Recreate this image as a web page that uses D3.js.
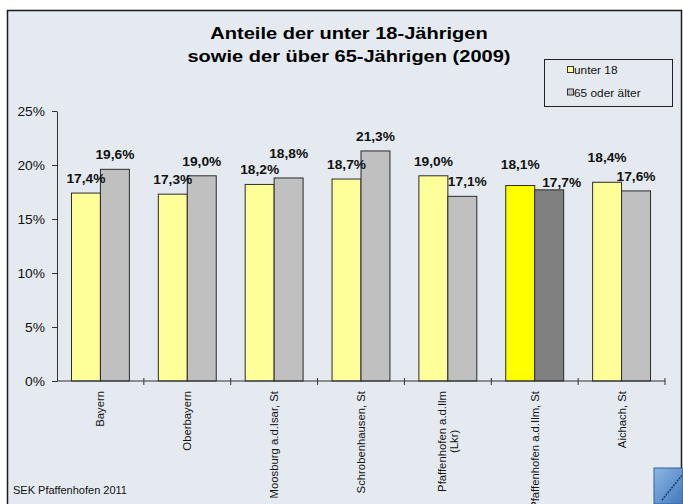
<!DOCTYPE html>
<html>
<head>
<meta charset="utf-8">
<script src="https://cdn.jsdelivr.net/npm/d3@7"></script>
<style>
  body { margin: 0; background: #fff; }
  svg { display: block; font-family: Arial, "Liberation Sans", sans-serif; }
</style>
</head>
<body>
<script>
// Chart data
const categories = ["Bayern", "Oberbayern", "Moosburg a.d.Isar, St", "Schrobenhausen, St",
    "Pfaffenhofen a.d.Ilm\n(Lkr)", "Pfaffenhofen a.d.Ilm, St", "Aichach, St"];
const under18 = [17.4, 17.3, 18.2, 18.7, 19.0, 18.1, 18.4];
const over65 = [19.6, 19.0, 18.8, 21.3, 17.1, 17.7, 17.6];
const yTicks = [0, 5, 10, 15, 20, 25];
const seriesNames = ["unter 18", "65 oder älter"];
const highlighted = "Pfaffenhofen a.d.Ilm, St";

// label nudges (Excel moved a few labels to avoid overlaps)
const liftU18 = [0, 0, 0, 0, 0, 6.5, 10.5];
const liftO65 = [0, 0, 10, 0, 0, -7, 0];
const shiftO65 = [0, 0, 0, 0, 5, 12.5, 0];

const W = 683, H = 504;
const bg = "#e4eaf0";
const sx = 1.15; // the picture is slightly stretched horizontally

const svg = d3.select("body").append("svg")
    .attr("width", W)
    .attr("height", H);

// outer frame
svg.append("rect")
    .attr("x", 7.5).attr("y", 10.5)
    .attr("width", 674).attr("height", 510)
    .attr("fill", bg)
    .attr("stroke", "#1a1a1a")
    .attr("stroke-width", 1.5);

// title
const title = svg.append("g")
    .attr("transform", "translate(349,0) scale(1.18,1)")
    .attr("text-anchor", "middle")
    .style("font-weight", "bold")
    .style("font-size", "17px");
title.append("text").attr("y", 39).text("Anteile der unter 18-Jährigen");
title.append("text").attr("y", 62).text("sowie der über 65-Jährigen (2009)");

// scales
const x0 = d3.scaleBand()
    .domain(categories)
    .range([57, 665])
    .paddingInner(1 / 3)
    .paddingOuter(1 / 6);

const x1 = d3.scaleBand()
    .domain(seriesNames)
    .range([0, x0.bandwidth()]);

const y = d3.scaleLinear()
    .domain([0, 25])
    .range([381, 111]);

// y axis
const yAxis = svg.append("g")
    .attr("transform", "translate(57,0)")
    .call(d3.axisLeft(y).tickValues(yTicks).tickFormat(d => d + "%").tickSize(5).tickSizeOuter(0));
yAxis.select(".domain").attr("stroke", "#333");
yAxis.selectAll(".tick line").attr("stroke", "#333");
yAxis.selectAll(".tick text")
    .attr("x", -12 / sx)
    .attr("dy", "0.36em")
    .attr("transform", `scale(${sx},1)`)
    .style("font-size", "12px")
    .style("font-family", "Arial, 'Liberation Sans', sans-serif")
    .attr("fill", "#111");

// bars
const colors = {
    normal: ["#ffff99", "#c0c0c0"],
    strong: ["#ffff00", "#808080"]
};

const groups = svg.selectAll(".cat")
    .data(categories)
    .enter()
    .append("g")
    .attr("class", "cat")
    .attr("transform", d => `translate(${x0(d)},0)`);

groups.selectAll("rect")
    .data((c, i) => [
        { cat: c, s: 0, v: under18[i] },
        { cat: c, s: 1, v: over65[i] }
    ])
    .enter()
    .append("rect")
    .attr("x", d => x1(seriesNames[d.s]))
    .attr("y", d => y(d.v))
    .attr("width", x1.bandwidth())
    .attr("height", d => y(0) - y(d.v))
    .attr("fill", d => (d.cat === highlighted ? colors.strong : colors.normal)[d.s])
    .attr("stroke", "#2b2b2b")
    .attr("stroke-width", 1);

// value labels
groups.each(function(c, i) {
    const g = d3.select(this);
    const fmt = v => v.toFixed(1).replace(".", ",") + "%";
    const items = [
        { s: 0, v: under18[i], lift: liftU18[i], dx: 0 },
        { s: 1, v: over65[i], lift: liftO65[i], dx: shiftO65[i] }
    ];
    items.forEach(d => {
        const cx = x1(seriesNames[d.s]) + x1.bandwidth() / 2 + d.dx;
        const by = y(d.v) - 10 - d.lift;
        g.append("text")
            .attr("transform", `translate(${cx},${by}) scale(1.1,1)`)
            .attr("text-anchor", "middle")
            .style("font-weight", "bold")
            .style("font-size", "12.5px")
            .attr("fill", "#111")
            .text(fmt(d.v));
    });
});

// x axis line and category ticks
svg.append("line")
    .attr("x1", 57).attr("x2", 665)
    .attr("y1", y(0)).attr("y2", y(0))
    .attr("stroke", "#333");

svg.selectAll(".xtick")
    .data(d3.range(1, categories.length + 1))
    .enter()
    .append("line")
    .attr("class", "xtick")
    .attr("x1", i => x0.range()[0] + i * x0.step())
    .attr("x2", i => x0.range()[0] + i * x0.step())
    .attr("y1", y(0) - 3)
    .attr("y2", y(0) + 4)
    .attr("stroke", "#333");

// rotated category labels
categories.forEach(c => {
    const lines = c.split("\n");
    const cx = x0(c) + x0.bandwidth() / 2;
    const g = svg.append("g")
        .attr("transform", `translate(${cx},391) rotate(-90)`)
        .style("font-size", "11.3px")
        .attr("fill", "#111");
    const texts = lines.map((t, k) => g.append("text")
        .attr("y", (k - (lines.length - 1) / 2) * 12.5)
        .attr("dy", "0.35em")
        .text(t));
    const maxLen = d3.max(texts, t => t.node().getComputedTextLength());
    texts.forEach(t => t.attr("x", -maxLen / 2).attr("text-anchor", "middle"));
});

// legend
const legend = svg.append("g");
legend.append("rect")
    .attr("x", 544.5).attr("y", 59.5)
    .attr("width", 128).attr("height", 47)
    .attr("fill", bg)
    .attr("stroke", "#222");

seriesNames.forEach((name, k) => {
    const by = 74 + k * 22.5;
    legend.append("rect")
        .attr("x", 567.5).attr("y", by - 7.5)
        .attr("width", 6).attr("height", 6)
        .attr("fill", colors.normal[k])
        .attr("stroke", "#333");
    legend.append("text")
        .attr("transform", `translate(574,${by}) scale(1.08,1)`)
        .style("font-size", "11px")
        .attr("fill", "#111")
        .text(name);
});

// footer
svg.append("text")
    .attr("x", 13).attr("y", 494)
    .style("font-size", "11px")
    .attr("fill", "#111")
    .text("SEK Pfaffenhofen 2011");

// corner logo fragment
const logoGrad = svg.append("defs").append("linearGradient")
    .attr("id", "logo").attr("x1", 0).attr("y1", 0).attr("x2", 1).attr("y2", 1);
logoGrad.append("stop").attr("offset", 0).attr("stop-color", "#8fb7e4");
logoGrad.append("stop").attr("offset", 1).attr("stop-color", "#3f78bd");
svg.append("rect")
    .attr("x", 654).attr("y", 468)
    .attr("width", 29).attr("height", 36)
    .attr("fill", "url(#logo)")
    .attr("stroke", "#2e5f99");
svg.append("line")
    .attr("x1", 662).attr("y1", 500)
    .attr("x2", 683).attr("y2", 474)
    .attr("stroke", "#1d3d66")
    .attr("stroke-width", 1.5)
    .attr("stroke-dasharray", "2,1");
</script>
</body>
</html>
